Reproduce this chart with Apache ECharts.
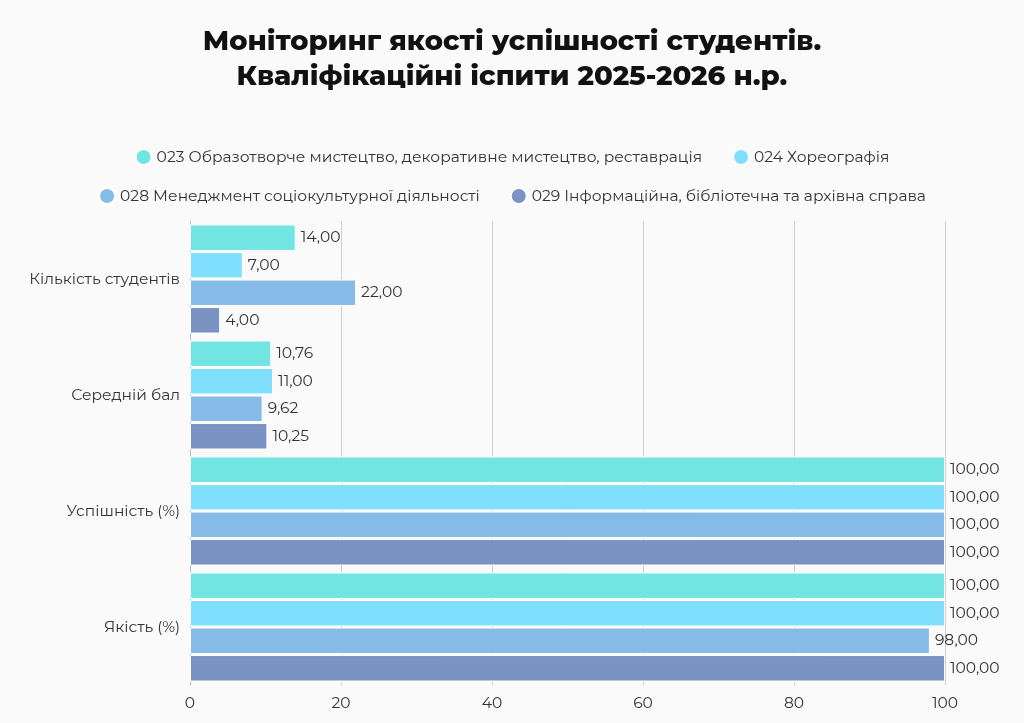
<!DOCTYPE html>
<html>
<head>
<meta charset="utf-8">
<script src="https://cdn.jsdelivr.net/npm/echarts@6/dist/echarts.min.js"></script>
<style>
  html, body { margin: 0; padding: 0; background: #fafafa; }
  #chart { width: 1024px; height: 723px; }
</style>
</head>
<body>
<div id="chart"></div>
<script>
const categories = ["Кількість студентів", "Середній бал", "Успішність (%)", "Якість (%)"];
const seriesNames = [
  "023 Образотворче мистецтво, декоративне мистецтво, реставрація",
  "024 Хореографія",
  "028 Менеджмент соціокультурної діяльності",
  "029 Інформаційна, бібліотечна та архівна справа"
];
const values023 = [14, 10.76, 100, 100];
const values024 = [7, 11, 100, 100];
const values028 = [22, 9.62, 100, 98];
const values029 = [4, 10.25, 100, 100];
const colors = ["#72e5e3", "#80dffd", "#86bbe8", "#7b93c2"];
const xTicks = { min: 0, max: 100, interval: 20 };

const font = "Montserrat, 'Open Sans', sans-serif";

const makeSeries = (name, data, color) => ({
  name: name,
  type: "bar",
  data: data,
  barGap: "4%",
  barCategoryGap: "6%",
  itemStyle: { color: color, borderColor: "#ffffff", borderWidth: 1 },
  label: {
    show: true,
    position: "right",
    distance: 5,
    color: "#333",
    fontFamily: font,
    fontSize: 15.5,
    formatter: p => p.value.toFixed(2).replace(".", ",")
  }
});

const legendBase = {
  left: "center",
  itemGap: 30,
  itemWidth: 16,
  itemHeight: 16,
  icon: "circle",
  textStyle: { fontFamily: font, fontSize: 15.5, color: "#333" }
};

const chart = echarts.init(document.getElementById("chart"));
chart.setOption({
  backgroundColor: "#fafafa",
  animation: false,
  title: {
    text: "Моніторинг якості успішності студентів.\nКваліфікаційні іспити 2025-2026 н.р.",
    left: "center",
    top: 19,
    textStyle: {
      fontFamily: font,
      fontWeight: 800,
      fontSize: 27.5,
      lineHeight: 35,
      color: "#111"
    }
  },
  legend: [
    Object.assign({}, legendBase, { top: 143, data: seriesNames.slice(0, 2) }),
    Object.assign({}, legendBase, { top: 182, data: seriesNames.slice(2) })
  ],
  grid: { left: 190, right: 79, top: 221, bottom: 38, containLabel: false },
  xAxis: {
    type: "value",
    min: xTicks.min,
    max: xTicks.max,
    interval: xTicks.interval,
    axisLabel: { fontFamily: font, fontSize: 15.5, color: "#333", margin: 10 },
    splitLine: { lineStyle: { color: "#d0d0d0" } },
    axisLine: { show: false },
    axisTick: { show: false }
  },
  yAxis: {
    type: "category",
    inverse: true,
    data: categories,
    axisLabel: { fontFamily: font, fontSize: 15.5, color: "#333", margin: 10 },
    axisLine: { show: true, lineStyle: { color: "#bbb" } },
    axisTick: { show: false }
  },
  series: [
    makeSeries(seriesNames[0], values023, colors[0]),
    makeSeries(seriesNames[1], values024, colors[1]),
    makeSeries(seriesNames[2], values028, colors[2]),
    makeSeries(seriesNames[3], values029, colors[3])
  ]
});
</script>
</body>
</html>
